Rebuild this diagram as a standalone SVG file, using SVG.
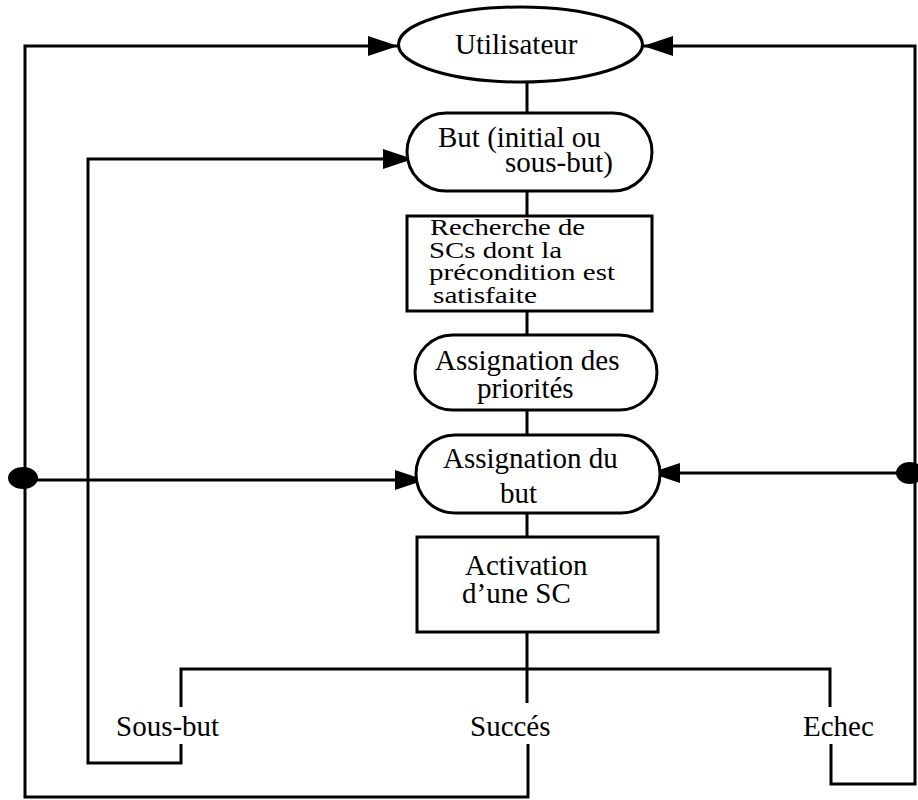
<svg xmlns="http://www.w3.org/2000/svg" width="918" height="800" viewBox="0 0 918 800">
  <style>
    .node { fill: #fff; stroke: #000; stroke-width: 3; }
    .wire { fill: none; stroke: #000; stroke-width: 3; }
    .lbl { font-family: "Liberation Serif", "Times New Roman", serif; font-size: 29px; fill: #000; }
    .sm { font-size: 24px; }
  </style>
  <defs>
    <marker id="arrow" markerUnits="userSpaceOnUse" markerWidth="32" markerHeight="22" refX="30" refY="10" orient="auto">
      <path d="M0,0 L30,10 L0,20 Z" fill="#000"/>
    </marker>
  </defs>

  <rect width="918" height="800" fill="#fff"/>

  <!-- connectors -->
  <g id="connectors">
    <!-- main spine -->
    <path class="wire" d="M527,82 V113 M527,191 V216 M527,311 V335 M527,410 V435 M527,513 V537 M527,632 V703"/>
    <!-- outcome branch -->
    <path class="wire" d="M181,707 V669 H830 V707"/>
    <!-- success: back to the user -->
    <path class="wire" d="M528,744 V797 H25 V46 H398" marker-end="url(#arrow)"/>
    <!-- failure: back to the user -->
    <path class="wire" d="M831,744 V784 H915 V46 H643" marker-end="url(#arrow)"/>
    <!-- sub-goal: back to goal -->
    <path class="wire" d="M181,744 V763 H88 V159 H413" marker-end="url(#arrow)"/>
    <!-- junctions into goal assignment -->
    <path class="wire" d="M25,480 H425" marker-end="url(#arrow)"/>
    <path class="wire" d="M915,473 H650" marker-end="url(#arrow)"/>
    <ellipse cx="23" cy="478" rx="15" ry="11" fill="#000"/>
    <ellipse cx="910" cy="473" rx="14" ry="11" fill="#000"/>
  </g>

  <g id="utilisateur">
    <ellipse class="node" cx="520.5" cy="44.5" rx="122" ry="37.5"/>
    <text class="lbl" x="455" y="54">Utilisateur</text>
  </g>

  <g id="but">
    <rect class="node" x="407" y="113" width="245" height="78" rx="39" ry="39"/>
    <text class="lbl" x="438" y="147">But (initial ou</text>
    <text class="lbl" x="505" y="172">sous-but)</text>
  </g>

  <g id="recherche">
    <rect class="node" x="407" y="216" width="245" height="95"/>
    <text class="lbl sm" x="430" y="235" textLength="155" lengthAdjust="spacingAndGlyphs">Recherche de</text>
    <text class="lbl sm" x="429" y="258" textLength="133" lengthAdjust="spacingAndGlyphs">SCs dont la</text>
    <text class="lbl sm" x="429" y="280" textLength="186" lengthAdjust="spacingAndGlyphs">précondition est</text>
    <text class="lbl sm" x="433" y="303" textLength="104" lengthAdjust="spacingAndGlyphs">satisfaite</text>
  </g>

  <g id="priorites">
    <rect class="node" x="415" y="335" width="242" height="75" rx="37.5" ry="37.5"/>
    <text class="lbl" x="435" y="370">Assignation des</text>
    <text class="lbl" x="477" y="398">priorités</text>
  </g>

  <g id="assignation-but">
    <rect class="node" x="416" y="435" width="244" height="78" rx="39" ry="39"/>
    <text class="lbl" x="443" y="468">Assignation du</text>
    <text class="lbl" x="500" y="503">but</text>
  </g>

  <g id="activation">
    <rect class="node" x="417" y="537" width="241" height="95"/>
    <text class="lbl" x="465" y="575">Activation</text>
    <text class="lbl" x="462" y="603">d’une SC</text>
  </g>

  <g id="sous-but">
    <text class="lbl" x="116" y="736">Sous-but</text>
  </g>
  <g id="succes">
    <text class="lbl" x="470" y="736">Succés</text>
  </g>
  <g id="echec">
    <text class="lbl" x="803" y="736">Echec</text>
  </g>
</svg>
